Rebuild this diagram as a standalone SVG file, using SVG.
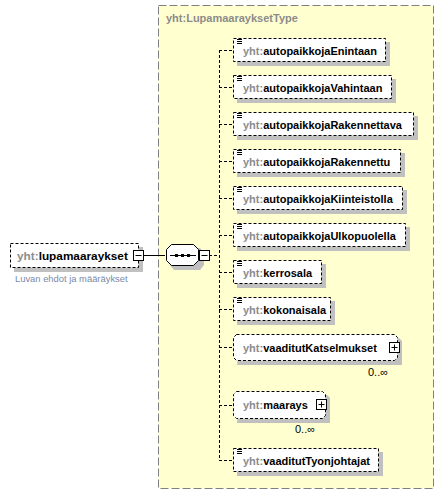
<svg xmlns="http://www.w3.org/2000/svg" width="442" height="494" viewBox="0 0 442 494">
<style>
.el{fill:#fff;stroke:#000;stroke-width:1;stroke-dasharray:3,2}
.sh{fill:#c0c0c0}
.t{font-family:"Liberation Sans",Arial,sans-serif;font-size:11px;font-weight:bold;fill:#000}
.p{fill:#8c8c8c}
.con{stroke:#000;stroke-width:1;fill:none;stroke-dasharray:3,2}
.ic{stroke:#000;stroke-width:1}
.occ{font-family:"Liberation Sans",Arial,sans-serif;font-size:11px;fill:#000}
</style>
<defs>
<g id="lines"><path class="ic" d="M237 39.5h5M237 41.5h5M237 43.5h5"/></g>
</defs>
<rect width="442" height="494" fill="#fff"/>
<g id="type">
<rect x="158.5" y="5.5" width="275" height="483" fill="#ffffd0" stroke="#808080" stroke-dasharray="8,3"/>
<text x="166" y="22" font-family="Liberation Sans,Arial,sans-serif" font-size="11" font-weight="bold" fill="#8c8c8c">yht:LupamaarayksetType</text>
</g>
<g id="connectors">
<path d="M143 255.5h22" stroke="#000" fill="none"/>
<path class="con" d="M209 255.5h10M219.5 50v411"/>
<path class="con" d="M219 50.5h14M219 87.5h14M219 124.5h14M219 161.5h14M219 198.5h14M219 235.5h14M219 272.5h14M219 309.5h14M219 347.5h14M219 405.5h14M219 460.5h14"/>
</g>
<g id="lupamaaraykset">
<rect class="sh" x="14" y="247" width="129" height="25"/>
<rect class="el" x="10.5" y="243.5" width="128" height="24"/>
<text class="t" x="17" y="259.5" style="font-size:11.8px"><tspan class="p">yht:</tspan>lupamaaraykset</text>
<rect x="133.5" y="250.5" width="10" height="10" fill="#fff" stroke="#000"/>
<path d="M135.5 255.5h6" stroke="#000"/>
<text x="15" y="282" font-family="Liberation Sans,Arial,sans-serif" font-size="9.4" fill="#7a8aa8">Luvan ehdot ja määräykset</text>
</g>
<g id="sequence">
<path class="sh" d="M174 248h26l4 5v12l-4 5h-26l-4-5v-12z"/>
<path d="M171.5 244.5h22l5 5v11l-5 5h-22l-5-5v-11z" fill="#fff" stroke="#000"/>
<path d="M170 255.5h26" stroke="#000"/>
<rect x="175" y="254" width="3" height="3"/><rect x="181" y="254" width="3" height="3"/><rect x="187" y="254" width="3" height="3"/>
<rect x="199.5" y="250.5" width="10" height="10" fill="#fff" stroke="#000"/>
<path d="M201.5 255.5h6" stroke="#000"/>
</g>
<g id="autopaikkojaEnintaan">
<rect class="sh" x="237" y="42" width="153" height="24"/>
<rect class="el" x="233.5" y="38.5" width="152" height="23"/>
<use href="#lines"/>
<text class="t" x="243" y="54.5"><tspan class="p">yht:</tspan>autopaikkojaEnintaan</text>
</g>
<g id="autopaikkojaVahintaan">
<rect class="sh" x="237" y="79" width="159" height="24"/>
<rect class="el" x="233.5" y="75.5" width="158" height="23"/>
<use href="#lines" y="37"/>
<text class="t" x="243" y="91.5"><tspan class="p">yht:</tspan>autopaikkojaVahintaan</text>
</g>
<g id="autopaikkojaRakennettava">
<rect class="sh" x="237" y="116" width="181" height="24"/>
<rect class="el" x="233.5" y="112.5" width="180" height="23"/>
<use href="#lines" y="74"/>
<text class="t" x="243" y="128.5"><tspan class="p">yht:</tspan>autopaikkojaRakennettava</text>
</g>
<g id="autopaikkojaRakennettu">
<rect class="sh" x="237" y="153" width="168" height="24"/>
<rect class="el" x="233.5" y="149.5" width="167" height="23"/>
<use href="#lines" y="111"/>
<text class="t" x="243" y="165.5"><tspan class="p">yht:</tspan>autopaikkojaRakennettu</text>
</g>
<g id="autopaikkojaKiinteistolla">
<rect class="sh" x="237" y="190" width="170" height="24"/>
<rect class="el" x="233.5" y="186.5" width="169" height="23"/>
<use href="#lines" y="148"/>
<text class="t" x="243" y="202.5"><tspan class="p">yht:</tspan>autopaikkojaKiinteistolla</text>
</g>
<g id="autopaikkojaUlkopuolella">
<rect class="sh" x="237" y="227" width="173" height="24"/>
<rect class="el" x="233.5" y="223.5" width="172" height="23"/>
<use href="#lines" y="185"/>
<text class="t" x="243" y="239.5"><tspan class="p">yht:</tspan>autopaikkojaUlkopuolella</text>
</g>
<g id="kerrosala">
<rect class="sh" x="237" y="264" width="89" height="24"/>
<rect class="el" x="233.5" y="260.5" width="88" height="23"/>
<use href="#lines" y="222"/>
<text class="t" x="243" y="276.5"><tspan class="p">yht:</tspan>kerrosala</text>
</g>
<g id="kokonaisala">
<rect class="sh" x="237" y="301" width="98" height="24"/>
<rect class="el" x="233.5" y="297.5" width="97" height="23"/>
<use href="#lines" y="259"/>
<text class="t" x="243" y="313.5"><tspan class="p">yht:</tspan>kokonaisala</text>
</g>
<g id="vaaditutKatselmukset">
<path class="sh" d="M240 338h159l3 3v24h-165z"/>
<path class="el" d="M236.5 334.5h158l3 3v20l-3 3h-158l-3-3v-20z"/>
<text class="t" x="243" y="351.5"><tspan class="p">yht:</tspan>vaaditutKatselmukset</text>
<rect x="389.5" y="342.5" width="10" height="10" fill="#fff" stroke="#000"/>
<path d="M391.5 347.5h6M394.5 344.5v6" stroke="#000"/>
<text class="occ" x="368" y="376">0..∞</text>
</g>
<g id="maarays">
<path class="sh" d="M240 395h87l3 3v25h-93z"/>
<path class="el" d="M236.5 391.5h86l3 3v21l-3 3h-86l-3-3v-21z"/>
<text class="t" x="243" y="409"><tspan class="p">yht:</tspan>maarays</text>
<rect x="316.5" y="399.5" width="10" height="10" fill="#fff" stroke="#000"/>
<path d="M318.5 404.5h6M321.5 401.5v6" stroke="#000"/>
<text class="occ" x="295" y="433">0..∞</text>
</g>
<g id="vaaditutTyonjohtajat">
<rect class="sh" x="237" y="452" width="146" height="24"/>
<rect class="el" x="233.5" y="448.5" width="145" height="23"/>
<use href="#lines" y="410"/>
<text class="t" x="243" y="464.5"><tspan class="p">yht:</tspan>vaaditutTyonjohtajat</text>
</g>
</svg>
